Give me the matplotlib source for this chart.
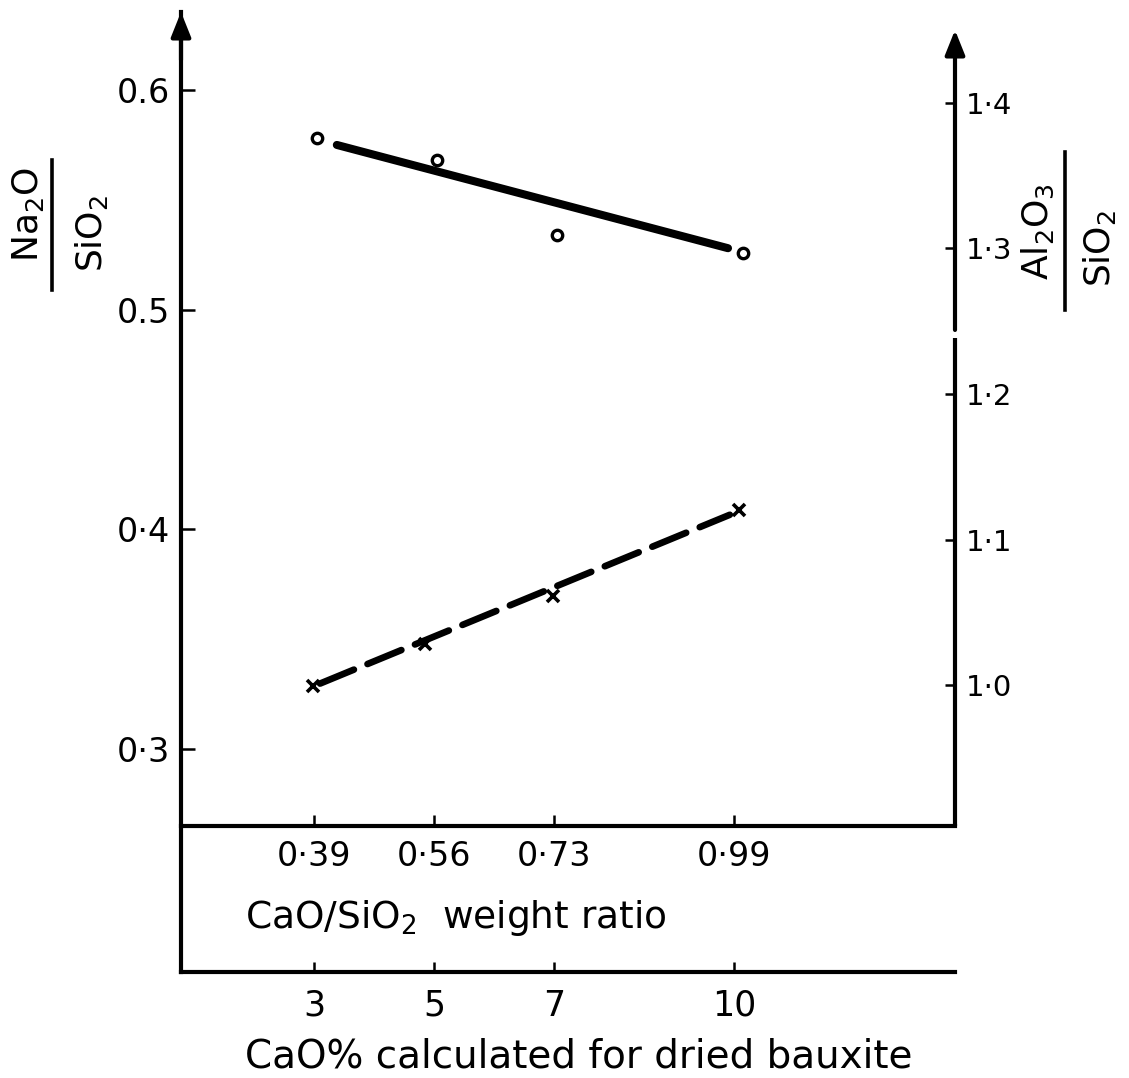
import matplotlib
matplotlib.use('Agg')
import matplotlib.pyplot as plt
from matplotlib.lines import Line2D

plt.rcParams['font.family'] = ['DejaVu Sans']
plt.rcParams['mathtext.default'] = 'regular'

# CaO additions (% of dried bauxite) and matching CaO/SiO2 weight ratios
cao_pct = [3, 5, 7, 10]
cao_pct_labels = ['3', '5', '7', '10']
cao_sio2_labels = ['0·39', '0·56', '0·73', '0·99']

# Na2O/SiO2 of the mud, open circles (left scale)
na_x = [3.05, 5.05, 7.05, 10.15]
na_y = [0.578, 0.568, 0.534, 0.526]
na_fit_x = [3.38, 9.90]
na_fit_y = [0.575, 0.528]

# Al2O3/SiO2 of the mud, crosses (right scale)
al_x = [2.98, 4.85, 6.98, 10.08]
al_y = [0.999, 1.028, 1.061, 1.120]
al_fit_x = [3.10, 9.93]
al_fit_y = [1.001, 1.117]

left_ticks = [0.3, 0.4, 0.5, 0.6]
left_labels = ['0·3', '0·4', '0.5', '0.6']
right_ticks = [1.0, 1.1, 1.2, 1.3, 1.4]
right_labels = ['1·0', '1·1', '1·2', '1·3', '1·4']

W, H = 1129, 1078
AX_LW = 3.0
TICK_FS = 24
LABEL_FS = 26

fig = plt.figure(figsize=(W / 100, H / 100), dpi=100)
ax = fig.add_axes([181 / W, 1 - 972 / H, 774 / W, 960 / H])
ax.set_xlim(0.783, 13.683)
ax.set_ylim(0.1986, 0.6355)
ax2 = ax.twinx()
ax2.set_ylim(0.8028, 1.4625)

# data
ax.plot(na_fit_x, na_fit_y, color='k', lw=5.8, solid_capstyle='round', zorder=3)
ax.plot(na_x, na_y, 'o', mfc='white', mec='k', ms=7.5, mew=2.4, zorder=4)
ax2.plot(al_fit_x, al_fit_y, color='k', lw=4.8, dashes=(5.5, 2.2),
         dash_capstyle='round', zorder=3)
ax2.plot(al_x, al_y, 'x', color='k', ms=8, mew=2.6, zorder=4)

# axes frame
for s in ['top', 'right']:
    ax.spines[s].set_visible(False)
for s in ax2.spines.values():
    s.set_visible(False)
ax.spines['left'].set_linewidth(AX_LW)
ax.spines['bottom'].set_linewidth(AX_LW)

ax.set_yticks(left_ticks, labels=left_labels)
ax.tick_params(axis='y', direction='in', length=10, width=1.8, pad=8,
               labelsize=TICK_FS)
ax.set_xticks(cao_pct, labels=cao_pct_labels)
ax.tick_params(axis='x', direction='in', length=7, width=1.8, pad=12,
               labelsize=TICK_FS + 1)
ax2.set_yticks(right_ticks, labels=right_labels)
ax2.tick_params(axis='y', direction='in', length=7, width=1.8, pad=8,
                labelsize=TICK_FS - 3)

# upper scale: CaO/SiO2 ratio
upper = 0.1521
secax = ax.secondary_xaxis(upper)
secax.set_xticks(cao_pct, labels=cao_sio2_labels)
secax.tick_params(axis='x', direction='in', length=8, width=1.8, pad=10,
                  labelsize=TICK_FS)
secax.spines['bottom'].set_linewidth(AX_LW)

# arrows on the vertical axes, right one broken between 1.2 and 1.3
arrow = dict(arrowstyle='-|>,head_length=0.75,head_width=0.3', color='k',
             lw=AX_LW, mutation_scale=20, shrinkA=0, shrinkB=0)
ax.annotate('', xy=(0, 1.0), xytext=(0, 0.95), xycoords='axes fraction',
            arrowprops=arrow, annotation_clip=False)
ax2.annotate('', xy=(1, 0.98125), xytext=(1, 0.6688), xycoords='axes fraction',
             arrowprops=arrow, annotation_clip=False)
ax2.plot([1, 1], [upper, 0.6604], transform=ax2.transAxes, clip_on=False,
         color='k', lw=AX_LW, solid_capstyle='butt')

# axis titles
fig.text(245 / W, 1 - 928 / H, 'CaO/SiO$_2$  weight ratio', fontsize=LABEL_FS + 1,
         ha='left', va='baseline')
fig.text(245 / W, 1 - 1068 / H, 'CaO% calculated for dried bauxite',
         fontsize=LABEL_FS + 2, ha='left', va='baseline')

fig.text(28 / W, 1 - 215 / H, 'Na$_2$O', rotation=90, fontsize=26,
         ha='center', va='center')
fig.add_artist(Line2D([52 / W, 52 / W], [1 - 160 / H, 1 - 290 / H],
                      color='k', lw=2.6))
fig.text(92 / W, 1 - 233 / H, 'SiO$_2$', rotation=90, fontsize=26,
         ha='center', va='center')

fig.text(1038 / W, 1 - 232 / H, 'Al$_2$O$_3$', rotation=90, fontsize=26,
         ha='center', va='center')
fig.add_artist(Line2D([1065 / W, 1065 / W], [1 - 152 / H, 1 - 310 / H],
                      color='k', lw=2.6))
fig.text(1099 / W, 1 - 248 / H, 'SiO$_2$', rotation=90, fontsize=26,
         ha='center', va='center')

fig.savefig('out.png', dpi=100)
